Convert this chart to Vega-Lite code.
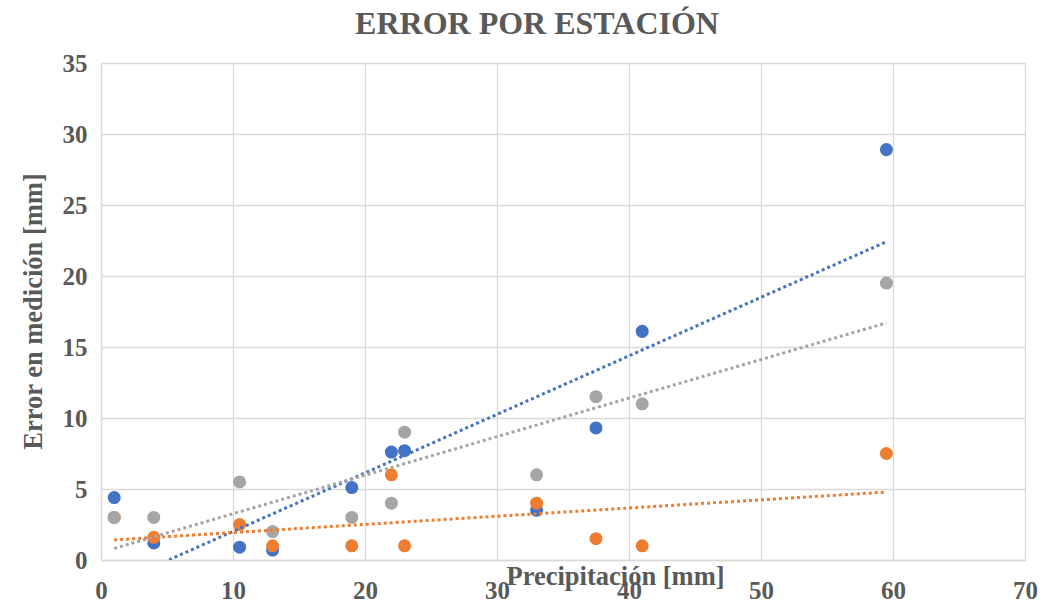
{
  "$schema": "https://vega.github.io/schema/vega-lite/v6.json",
  "width": 924,
  "height": 497,
  "autosize": {"type": "none"},
  "padding": {"left": 101, "top": 63, "right": 34, "bottom": 50},
  "background": "white",
  "title": {
    "text": "ERROR POR ESTACIÓN",
    "font": "Liberation Serif",
    "fontSize": 32,
    "fontWeight": "bold",
    "color": "#595959",
    "anchor": "middle",
    "frame": "group",
    "baseline": "alphabetic",
    "offset": -15,
    "dx": -26
  },
  "config": {
    "view": {"stroke": null},
    "axis": {
      "labelFont": "Liberation Serif",
      "labelFontSize": 25,
      "labelFontWeight": "bold",
      "labelColor": "#595959",
      "labelFlush": false,
      "titleFont": "Liberation Serif",
      "titleFontSize": 26.5,
      "titleFontWeight": "bold",
      "titleColor": "#595959",
      "gridColor": "#D9D9D9",
      "gridWidth": 1.3,
      "domainColor": "#D9D9D9",
      "domainWidth": 1.3,
      "ticks": false
    }
  },
  "data": {
    "values": [
      {"serie": "Estación 1", "precip": 1, "error": 4.4},
      {"serie": "Estación 1", "precip": 4, "error": 1.2},
      {"serie": "Estación 1", "precip": 10.5, "error": 0.9},
      {"serie": "Estación 1", "precip": 13, "error": 0.7},
      {"serie": "Estación 1", "precip": 19, "error": 5.1},
      {"serie": "Estación 1", "precip": 22, "error": 7.6},
      {"serie": "Estación 1", "precip": 23, "error": 7.7},
      {"serie": "Estación 1", "precip": 33, "error": 3.5},
      {"serie": "Estación 1", "precip": 37.5, "error": 9.3},
      {"serie": "Estación 1", "precip": 41, "error": 16.1},
      {"serie": "Estación 1", "precip": 59.5, "error": 28.9},
      {"serie": "Estación 2", "precip": 1, "error": 3.0},
      {"serie": "Estación 2", "precip": 4, "error": 1.6},
      {"serie": "Estación 2", "precip": 10.5, "error": 2.5},
      {"serie": "Estación 2", "precip": 13, "error": 1.0},
      {"serie": "Estación 2", "precip": 19, "error": 1.0},
      {"serie": "Estación 2", "precip": 22, "error": 6.0},
      {"serie": "Estación 2", "precip": 23, "error": 1.0},
      {"serie": "Estación 2", "precip": 33, "error": 4.0},
      {"serie": "Estación 2", "precip": 37.5, "error": 1.5},
      {"serie": "Estación 2", "precip": 41, "error": 1.0},
      {"serie": "Estación 2", "precip": 59.5, "error": 7.5},
      {"serie": "Estación 3", "precip": 1, "error": 3.0},
      {"serie": "Estación 3", "precip": 4, "error": 3.0},
      {"serie": "Estación 3", "precip": 10.5, "error": 5.5},
      {"serie": "Estación 3", "precip": 13, "error": 2.0},
      {"serie": "Estación 3", "precip": 19, "error": 3.0},
      {"serie": "Estación 3", "precip": 22, "error": 4.0},
      {"serie": "Estación 3", "precip": 23, "error": 9.0},
      {"serie": "Estación 3", "precip": 33, "error": 6.0},
      {"serie": "Estación 3", "precip": 37.5, "error": 11.5},
      {"serie": "Estación 3", "precip": 41, "error": 11.0},
      {"serie": "Estación 3", "precip": 59.5, "error": 19.5}
    ]
  },
  "encoding": {
    "x": {
      "field": "precip",
      "type": "quantitative",
      "scale": {"domain": [0, 70], "nice": false},
      "axis": {
        "title": "Precipitación [mm]",
        "values": [0, 10, 20, 30, 40, 50, 60, 70],
        "labelPadding": 18,
        "titleX": 514,
        "titleY": 24,
        "titleBaseline": "alphabetic",
        "titleAnchor": null,
        "titleAlign": "center"
      }
    },
    "y": {
      "field": "error",
      "type": "quantitative",
      "scale": {"domain": [0, 35], "nice": false},
      "axis": {
        "title": "Error en medición [mm]",
        "values": [0, 5, 10, 15, 20, 25, 30, 35],
        "labelPadding": 14,
        "titleX": -68,
        "titleY": 248,
        "titleAngle": -90,
        "titleBaseline": "middle",
        "titleAlign": "center",
        "titleAnchor": null
      }
    },
    "color": {
      "field": "serie",
      "type": "nominal",
      "scale": {
        "domain": ["Estación 1", "Estación 2", "Estación 3"],
        "range": ["#4472C4", "#ED7D31", "#A5A5A5"]
      },
      "legend": null
    }
  },
  "layer": [
    {
      "mark": {"type": "point", "filled": true, "size": 170, "opacity": 1, "shape": "circle"}
    },
    {
      "transform": [
        {"regression": "error", "on": "precip", "groupby": ["serie"]}
      ],
      "mark": {"type": "line", "strokeDash": [3, 3], "strokeWidth": 3, "clip": true}
    }
  ]
}
